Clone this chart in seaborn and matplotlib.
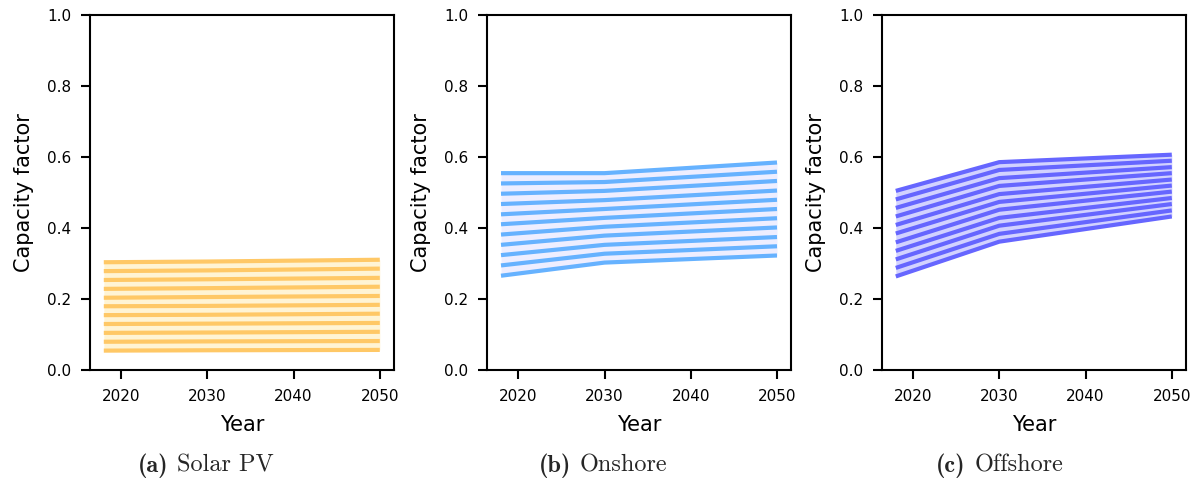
import numpy as np
import pandas as pd
import matplotlib
matplotlib.use("Agg")
import matplotlib.pyplot as plt
import seaborn as sns

years = [2018, 2030, 2050]

solar_2018 = [0.054, 0.079, 0.104, 0.129, 0.154, 0.179, 0.203, 0.228, 0.253, 0.278, 0.303]
solar_2030 = [0.055, 0.080, 0.105, 0.130, 0.155, 0.180, 0.205, 0.230, 0.255, 0.280, 0.305]
solar_2050 = [0.056, 0.081, 0.107, 0.132, 0.158, 0.183, 0.208, 0.234, 0.259, 0.285, 0.310]

onshore_2018 = [0.265, 0.294, 0.323, 0.352, 0.381, 0.410, 0.438, 0.467, 0.496, 0.525, 0.554]
onshore_2030 = [0.302, 0.327, 0.352, 0.378, 0.403, 0.428, 0.453, 0.478, 0.504, 0.529, 0.554]
onshore_2050 = [0.322, 0.348, 0.374, 0.401, 0.427, 0.453, 0.479, 0.505, 0.532, 0.558, 0.584]

offshore_2018 = [0.263, 0.287, 0.311, 0.335, 0.359, 0.384, 0.408, 0.432, 0.456, 0.480, 0.504]
offshore_2030 = [0.361, 0.383, 0.406, 0.428, 0.451, 0.473, 0.495, 0.518, 0.540, 0.563, 0.585]
offshore_2050 = [0.432, 0.449, 0.467, 0.484, 0.502, 0.519, 0.536, 0.554, 0.571, 0.589, 0.606]

captions = [("(a)", "Solar PV"), ("(b)", "Onshore"), ("(c)", "Offshore")]
line_colors = ["#FFC866", "#66B2FF", "#6666FF"]
fill_colors = ["#FFF4D4", "#EEEEFF", "#D2D2FF"]

techs = [
    [solar_2018, solar_2030, solar_2050],
    [onshore_2018, onshore_2030, onshore_2050],
    [offshore_2018, offshore_2030, offshore_2050],
]

sns.set_style("ticks")
plt.rcParams["font.family"] = ["DejaVu Sans"]

W, H = 1200, 479
fig = plt.figure(figsize=(12, 4.79), dpi=100)
lefts = [0.075, 0.406, 0.735]
width = 0.253
bottom = 0.228
height = 0.741
caption_centers_px = [206, 603, 1000]

for i, (series, lc, fc) in enumerate(zip(techs, line_colors, fill_colors)):
    ax = fig.add_axes([lefts[i], bottom, width, height])
    rows = []
    for yr, vals in zip(years, series):
        for k, v in enumerate(vals):
            rows.append({"Year": yr, "cf": v, "scen": k})
    df = pd.DataFrame(rows)
    lo = df.groupby("Year")["cf"].min()
    hi = df.groupby("Year")["cf"].max()
    ax.fill_between(lo.index, lo.values, hi.values, color=fc, lw=0, zorder=1)
    sns.lineplot(data=df, x="Year", y="cf", hue="scen", palette=[lc] * 11,
                 lw=3.0, legend=False, ax=ax, zorder=2, solid_capstyle="butt")
    ax.set_ylim(0, 1)
    ax.set_xticks([2020, 2030, 2040, 2050])
    ax.set_yticks([0.0, 0.2, 0.4, 0.6, 0.8, 1.0])
    ax.set_xlabel("Year", fontsize=15, labelpad=8, color="black")
    ax.set_ylabel("Capacity factor", fontsize=15, labelpad=9, color="black")
    ax.tick_params(labelsize=11, length=6.7, width=1.5, pad=7, colors="black")
    for s in ax.spines.values():
        s.set_visible(True)
        s.set_linewidth(1.5)
        s.set_color("black")

renderer = fig.canvas.get_renderer()
for (lab, name), cpx in zip(captions, caption_centers_px):
    t1 = fig.text(0, 7 / H, lab, ha="left", va="baseline", fontsize=17.5, family="cmb10")
    t2 = fig.text(0, 7 / H, name, ha="left", va="baseline", fontsize=17.5, family="cmr10")
    w1 = t1.get_window_extent(renderer).width
    w2 = t2.get_window_extent(renderer).width
    gap = 9
    total = w1 + gap + w2
    x0 = cpx - total / 2
    t1.set_x(x0 / W)
    t2.set_x((x0 + w1 + gap) / W)

fig.savefig("out.png", dpi=100)
